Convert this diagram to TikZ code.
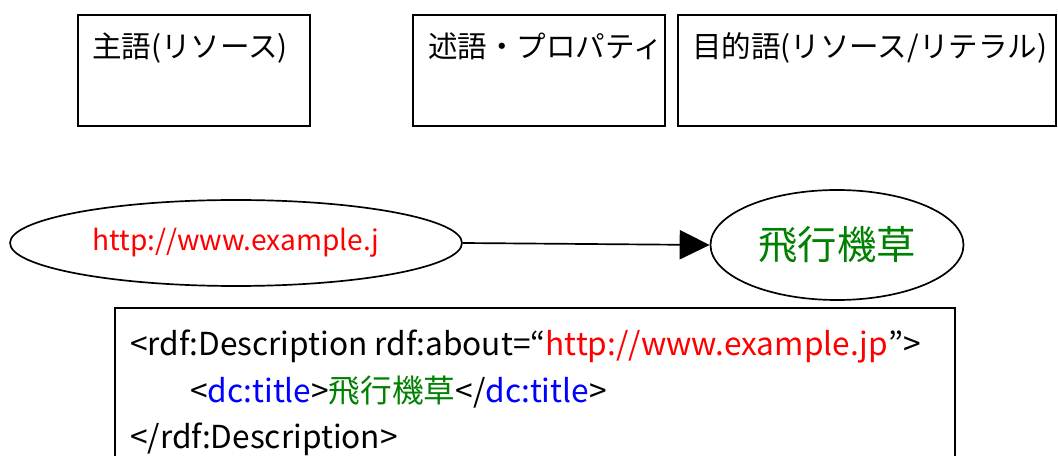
\documentclass[tikz,border=0pt]{standalone}
\usepackage{fontspec}
\setmainfont{Noto Sans CJK JP}
\usetikzlibrary{arrows.meta,shapes.geometric}
\definecolor{uriRed}{RGB}{255,0,0}
\definecolor{tagBlue}{RGB}{0,0,255}
\definecolor{litGreen}{RGB}{0,128,0}
\tikzset{
	topbox/.style={draw, line width=1.2pt, minimum height=2.775cm, inner sep=0pt},
	boxtext/.style={anchor=base west, inner sep=0pt, font=\fontsize{21}{25}\selectfont},
	res/.style={draw, ellipse, line width=1.2pt, inner sep=0pt},
	codetext/.style={anchor=base west, inner sep=0pt, font=\fontsize{22.5}{26}\selectfont}
}
\begin{document}
\begin{tikzpicture}
		%%%%% START %%%%%
		\useasboundingbox (0, 0) rectangle (26.45, 11.375);
		
		% header boxes
		\node[topbox, minimum width=5.8cm] (subj) at (4.85, 9.6125) {};
		\node[topbox, minimum width=6.3cm] (pred) at (13.475, 9.6125) {};
		\node[topbox, minimum width=9.45cm] (obj) at (21.675, 9.6125) {};
		\node[boxtext] (subjtxt) at (2.3, 9.93) {主語(リソース)};
		\node[boxtext] (predtxt) at (10.7, 9.93) {述語・プロパティ};
		\node[boxtext] (objtxt) at (17.3, 9.93) {目的語(リソース/リテラル)};
		
		% graph
		\node[res, minimum width=11.3cm, minimum height=2.15cm] (uri) at (5.9, 5.3) {};
		\node[font=\fontsize{20}{24}\selectfont, text=uriRed] (uritxt) at (5.9, 5.3) {http://www.example.j};
		\node[res, minimum width=6.325cm, minimum height=2.75cm, font=\fontsize{28}{32}\selectfont, text=litGreen] (title) at (20.925, 5.25) {飛行機草};
		\draw[line width=1.2pt, -{Triangle[length=0.75cm, width=0.73cm]}] (uri.east) -- (title.west);
		
		% RDF/XML
		\draw[line width=1.2pt] (2.875, 3.675) rectangle (23.875, -1);
		\node[codetext] (l1) at (3.25, 2.475) {<rdf:Description rdf:about=“\textcolor{uriRed}{http://www.example.jp}”>};
		\node[codetext] (l2) at (4.75, 1.325) {<\textcolor{tagBlue}{dc:title}>\textcolor{litGreen}{飛行機草}</\textcolor{tagBlue}{dc:title}>};
		\node[codetext] (l3) at (3.25, 0.175) {</rdf:Description>};
		%%%%% END %%%%%
\end{tikzpicture}
\end{document}
